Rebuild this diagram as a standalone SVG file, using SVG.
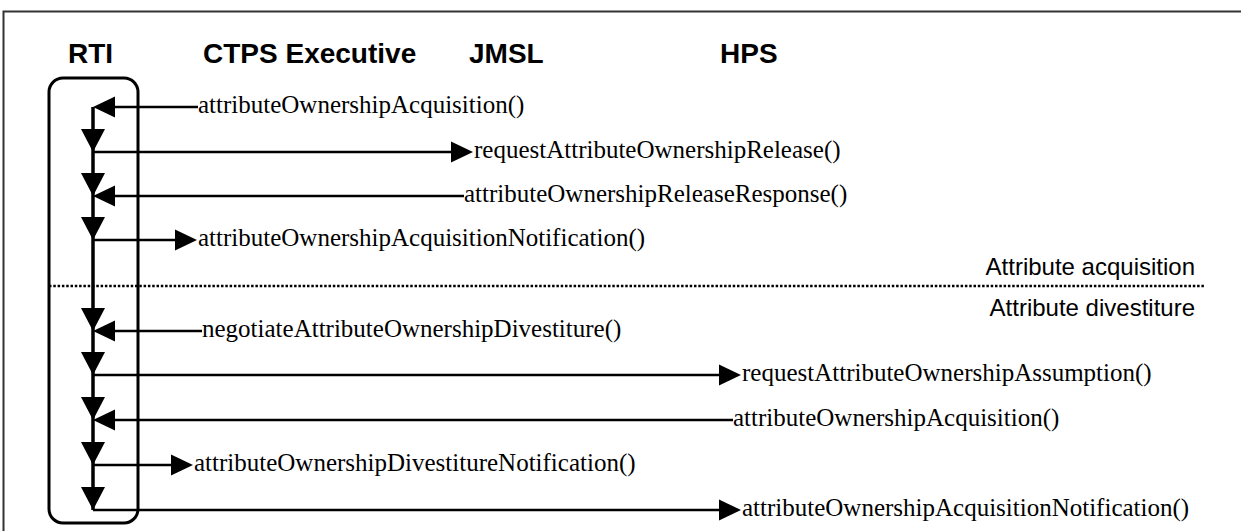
<svg xmlns="http://www.w3.org/2000/svg" width="1241" height="531" viewBox="0 0 1241 531">
  <style>
    .hdr { font-family: "Liberation Sans", Arial, sans-serif; font-weight: bold; font-size: 28px; fill: #000; }
    .sec { font-family: "Liberation Sans", Arial, sans-serif; font-size: 24px; fill: #000; }
    .msg { font-family: "Liberation Serif", "Times New Roman", serif; font-size: 25px; fill: #000; }
    .wire { stroke: #000; stroke-width: 2.5; fill: none; }
    .life { stroke: #000; stroke-width: 3.5; fill: none; }
    .head { fill: #000; stroke: none; }
  </style>
  <defs>
    <path id="down" d="M -12 -23 L 12 -23 L 0 0 Z"/>
    <path id="left" d="M 0 0 L 22 -10.5 L 22 10.5 Z"/>
    <path id="right" d="M 0 0 L -22 -10.5 L -22 10.5 Z"/>
  </defs>

  <rect width="1241" height="531" fill="#fff"/>
  <!-- frame edges -->
  <path d="M 3.5 531 L 3.5 11.5 L 1241 11.5" stroke="#333" stroke-width="2" fill="none"/>

  <!-- column headings -->
  <g id="headers">
    <text class="hdr" x="68" y="63">RTI</text>
    <text class="hdr" x="203" y="63">CTPS Executive</text>
    <text class="hdr" x="469" y="63">JMSL</text>
    <text class="hdr" x="720" y="63">HPS</text>
  </g>

  <!-- RTI bracket -->
  <g id="rti">
    <rect x="49" y="78" width="89" height="445" rx="14" ry="14" stroke="#000" stroke-width="3" fill="none"/>
  </g>

  <!-- phase separator -->
  <g id="phases">
    <line x1="49" y1="286" x2="1205" y2="286" stroke="#000" stroke-width="2.5" stroke-dasharray="2.5 1.8"/>
    <text class="sec" x="1195" y="275" text-anchor="end">Attribute acquisition</text>
    <text class="sec" x="1195" y="316" text-anchor="end">Attribute divestiture</text>
  </g>

  <g id="connectors">
    <!-- RTI timeline -->
    <line class="life" x1="93" y1="107" x2="93" y2="510"/>
    <use href="#down" x="93" y="152" class="head"/>
    <use href="#down" x="93" y="196" class="head"/>
    <use href="#down" x="93" y="240" class="head"/>
    <use href="#down" x="93" y="331" class="head"/>
    <use href="#down" x="93" y="375" class="head"/>
    <use href="#down" x="93" y="420" class="head"/>
    <use href="#down" x="93" y="465" class="head"/>
    <use href="#down" x="93" y="510" class="head"/>

    <!-- message lines -->
    <line class="wire" x1="110" y1="107" x2="198" y2="107"/>
    <use href="#left" x="93" y="107" class="head"/>

    <line class="wire" x1="93" y1="152" x2="456" y2="152"/>
    <use href="#right" x="473" y="152" class="head"/>

    <line class="wire" x1="110" y1="196" x2="464" y2="196"/>
    <use href="#left" x="93" y="196" class="head"/>

    <line class="wire" x1="93" y1="240" x2="180" y2="240"/>
    <use href="#right" x="197" y="240" class="head"/>

    <line class="wire" x1="110" y1="331" x2="202" y2="331"/>
    <use href="#left" x="93" y="331" class="head"/>

    <line class="wire" x1="93" y1="375" x2="724" y2="375"/>
    <use href="#right" x="741" y="375" class="head"/>

    <line class="wire" x1="110" y1="420" x2="733" y2="420"/>
    <use href="#left" x="93" y="420" class="head"/>

    <line class="wire" x1="93" y1="465" x2="176" y2="465"/>
    <use href="#right" x="193" y="465" class="head"/>

    <line class="wire" x1="93" y1="510" x2="724" y2="510"/>
    <use href="#right" x="741" y="510" class="head"/>
  </g>

  <g id="messages">
    <text class="msg" x="198" y="113">attributeOwnershipAcquisition()</text>
    <text class="msg" x="474" y="158">requestAttributeOwnershipRelease()</text>
    <text class="msg" x="464" y="202">attributeOwnershipReleaseResponse()</text>
    <text class="msg" x="198" y="246">attributeOwnershipAcquisitionNotification()</text>
    <text class="msg" x="202" y="337">negotiateAttributeOwnershipDivestiture()</text>
    <text class="msg" x="742" y="381">requestAttributeOwnershipAssumption()</text>
    <text class="msg" x="733" y="426">attributeOwnershipAcquisition()</text>
    <text class="msg" x="194" y="471">attributeOwnershipDivestitureNotification()</text>
    <text class="msg" x="742" y="516">attributeOwnershipAcquisitionNotification()</text>
  </g>
</svg>
